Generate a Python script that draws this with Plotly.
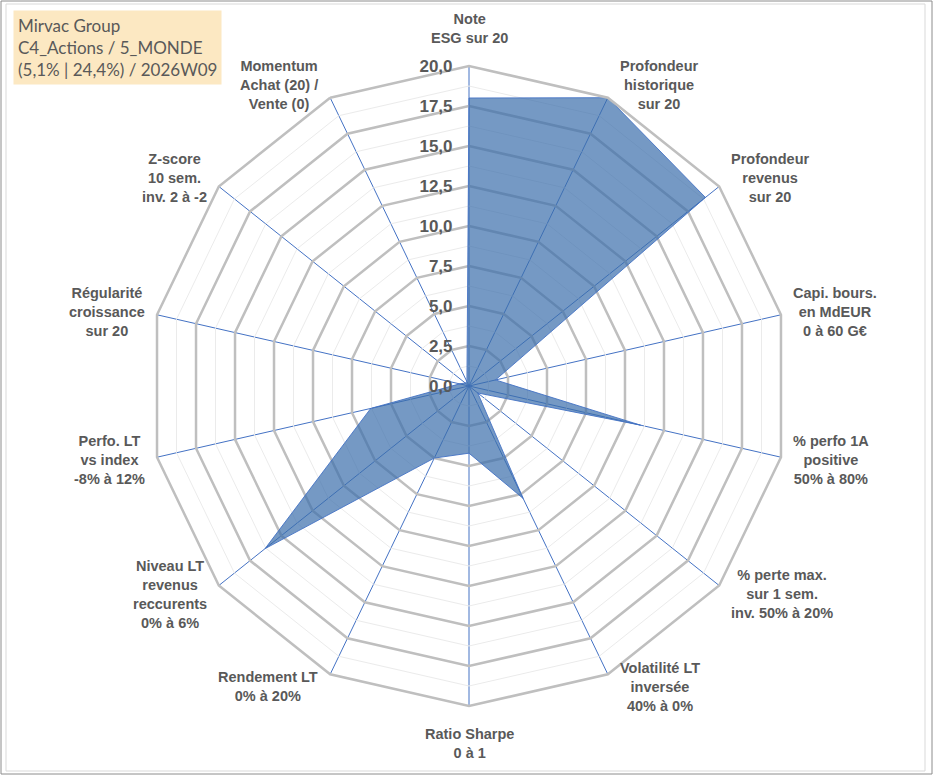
import math
import plotly.graph_objects as go

# Radar "Mirvac Group" - scores sur 20
categories = [
    "Note<br>ESG sur 20",
    "Profondeur<br>historique<br>sur 20",
    "Profondeur<br>revenus<br>sur 20",
    "Capi. bours.<br>en MdEUR<br>0 à 60 G€",
    "% perfo 1A<br>positive<br>50% à 80%",
    "% perte max.<br>sur 1 sem.<br>inv. 50% à 20%",
    "Volatilité LT<br>inversée<br>40% à 0%",
    "Ratio Sharpe<br>0 à 1",
    "Rendement LT<br>0% à 20%",
    "Niveau LT<br>revenus<br>reccurents<br>0% à 6%",
    "Perfo. LT<br>vs index<br>-8% à 12%",
    "Régularité<br>croissance<br>sur 20",
    "Z-score<br>10 sem.<br>inv. 2 à -2",
    "Momentum<br>Achat (20) /<br>Vente (0)",
]
scores = [18.0, 20.0, 18.9, 1.7, 11.0, 0.7, 7.8, 4.2, 5.0, 16.3, 6.3, 0.6, 0.3, 0.3]

major_ticks = [0, 2.5, 5, 7.5, 10, 12.5, 15, 17.5, 20]
minor_ticks = [1.25, 3.75, 6.25, 8.75, 11.25, 13.75, 16.25, 18.75]
title_lines = ["Mirvac Group", "C4_Actions / 5_MONDE", "(5,1% | 24,4%) / 2026W09"]

W, H = 933, 776
GREY_TXT = "#595959"
BLUE = "#4472C4"

fig = go.Figure()

# gros anneaux gris tous les 2,5
closed = categories + [categories[0]]
for m in major_ticks[1:-1]:
    fig.add_trace(go.Scatterpolar(
        r=[m] * len(closed), theta=closed, mode="lines",
        line=dict(color="#BFBFBF", width=2.5),
        hoverinfo="skip", showlegend=False
    ))

# serie
fig.add_trace(go.Scatterpolar(
    r=scores + [scores[0]], theta=closed,
    mode="lines", fill="toself",
    fillcolor="rgba(59,109,171,0.70)",
    line=dict(color="rgba(68,114,196,0.9)", width=1),
    name="Mirvac Group", showlegend=False
))

all_ticks = sorted(major_ticks + minor_ticks)
tick_text = [f"{t:.1f}".replace(".", ",") if t in major_ticks else "" for t in all_ticks]

cx, cy, R = 469, 386, 320

# libelles des axes, places autour du polygone (texte centre comme Excel)
annotations = []
n = len(categories)
for i, label in enumerate(categories):
    a = math.radians(i * 360 / n)
    s, c = math.sin(a), math.cos(a)
    vx, vy = cx + R * s, cy - R * c
    if abs(s) < 0.1:
        xa, ya = "center", ("bottom" if c > 0 else "top")
        px, py = vx, vy - 18 * c
    else:
        xa, ya = ("left" if s > 0 else "right"), "middle"
        px, py = vx + 10 * (1 if s > 0 else -1), vy - 14 * c
    annotations.append(dict(
        xref="paper", yref="paper", x=px / W, y=1 - py / H,
        xanchor=xa, yanchor=ya, align="center", showarrow=False,
        text="<b>" + label.replace("<br>", "</b><br><b>") + "</b>",
        font=dict(family="Liberation Sans", size=14.5, color=GREY_TXT),
    ))

annotations.append(dict(
    xref="paper", yref="paper", x=13 / W, y=1 - 10 / H,
    xanchor="left", yanchor="top", align="left",
    text="<br>".join(title_lines), showarrow=False,
    font=dict(family="Lato", size=17, color=GREY_TXT),
    bgcolor="#FCE8C2", borderpad=4,
))

fig.update_layout(
    width=W, height=H,
    margin=dict(l=0, r=0, t=0, b=0),
    paper_bgcolor="white",
    plot_bgcolor="white",
    showlegend=False,
    polar=dict(
        domain=dict(x=[(cx - R) / W, (cx + R) / W],
                    y=[1 - (cy + R) / H, 1 - (cy - R) / H]),
        bgcolor="white",
        gridshape="linear",
        angularaxis=dict(
            direction="clockwise", rotation=90,
            showline=True, linecolor="#BFBFBF", linewidth=2.5,
            gridcolor=BLUE, gridwidth=1.3,
            ticks="", showticklabels=False,
        ),
        radialaxis=dict(
            range=[0, 20], angle=90, tickangle=90, side="counterclockwise",
            tickvals=all_ticks, ticktext=tick_text,
            showline=False, ticks="outside", ticklen=10,
            tickcolor="rgba(0,0,0,0)",
            gridcolor="#EBEBEB", gridwidth=1,
            tickfont=dict(family="Liberation Sans", size=17, color=GREY_TXT,
                          weight="bold"),
        ),
    ),
    shapes=[
        dict(type="rect", xref="paper", yref="paper",
             x0=1 / W, x1=1 - 1 / W, y0=2 / H, y1=1 - 1 / H,
             line=dict(color="#8C8C8C", width=1)),
        dict(type="rect", xref="paper", yref="paper",
             x0=6 / W, x1=1 - 8 / W, y0=5 / H, y1=1 - 4 / H,
             line=dict(color="#D9D9D9", width=1)),
    ],
    annotations=annotations,
)

fig.write_html("out.html",
               config={"displayModeBar": False},
               post_script="document.body.style.margin='0';"
                           "document.body.style.overflow='hidden';")
